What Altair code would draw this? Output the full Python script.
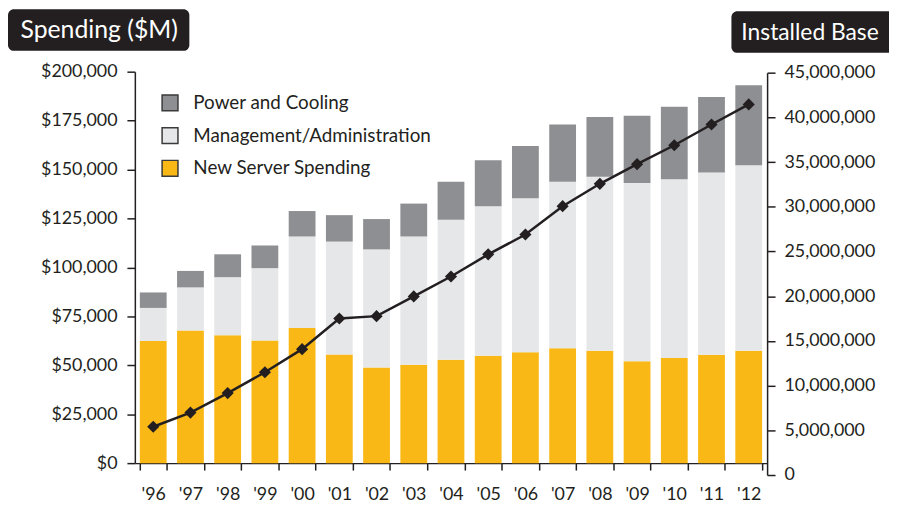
import altair as alt
import pandas as pd

years = ["'96", "'97", "'98", "'99", "'00", "'01", "'02", "'03", "'04",
         "'05", "'06", "'07", "'08", "'09", "'10", "'11", "'12"]
new_server = [62400, 67800, 65300, 62600, 69000, 55500, 48900, 50300, 52800,
              54800, 56700, 58700, 57400, 52100, 53700, 55400, 57400]
management = [16900, 22000, 29700, 37000, 46800, 57700, 60300, 65500, 71600,
              76500, 78600, 85100, 88900, 91000, 91400, 93100, 94800]
power_cooling = [7900, 8400, 11700, 11600, 13000, 13500, 15500, 16800, 19400,
                 23500, 26700, 29200, 30600, 34400, 37000, 38600, 40900]
installed_base = [5400000, 6980000, 9160000, 11490000, 14080000, 17510000,
                  17770000, 19980000, 22200000, 24680000, 26900000, 30070000,
                  32570000, 34770000, 36880000, 39200000, 41450000]

series_names = ["Power and Cooling", "Management/Administration", "New Server Spending"]
series_colors = ["#8e8f92", "#e6e7e8", "#f9b816"]
stack_order = {"New Server Spending": 0, "Management/Administration": 1, "Power and Cooling": 2}

rows = []
for i, y in enumerate(years):
    for name, vals in [("New Server Spending", new_server),
                       ("Management/Administration", management),
                       ("Power and Cooling", power_cooling)]:
        rows.append({"year": y, "series": name, "value": vals[i], "ord": stack_order[name]})
bars_df = pd.DataFrame(rows)
line_df = pd.DataFrame({"year": years, "base": installed_base})
one = pd.DataFrame({"a": [0]})

FONT = "Lato"
DARK = "#231f20"

x_axis = alt.Axis(title=None, labelFontSize=18, labelColor=DARK, labelFont=FONT,
                  tickBand="extent", tickSize=7, tickColor=DARK, tickWidth=1.5,
                  domainColor=DARK, domainWidth=1.5, labelPadding=16, labelAngle=0)
x_scale = alt.Scale(paddingInner=0.28, paddingOuter=0.134)

def x_enc():
    return alt.X("year:N", sort=years, scale=x_scale, axis=x_axis)

bars = alt.Chart(bars_df).mark_bar().encode(
    x=x_enc(),
    y=alt.Y("value:Q", stack="zero",
            scale=alt.Scale(domain=[0, 200000], nice=False),
            axis=alt.Axis(title=None, values=list(range(0, 200001, 25000)), format="$,.0f",
                          labelFontSize=18, labelColor=DARK, labelFont=FONT,
                          tickSize=8, tickColor=DARK, tickWidth=1.5, domainColor=DARK,
                          domainWidth=1.5, labelPadding=10, grid=False, orient="left")),
    color=alt.Color("series:N",
                    scale=alt.Scale(domain=series_names, range=series_colors),
                    legend=alt.Legend(title=None, orient="none", legendX=26, legendY=22,
                                      symbolType="square", symbolSize=256,
                                      symbolStrokeColor="#3a3a3a", symbolStrokeWidth=1.5,
                                      labelFontSize=19, labelFont=FONT, labelColor=DARK,
                                      labelOffset=14, rowPadding=10, padding=0,
                                      labelLimit=0)),
    order=alt.Order("ord:Q", sort="ascending"),
)

y_right = alt.Y("base:Q",
                scale=alt.Scale(domain=[0, 45000000], range=[407, 1], nice=False),
                axis=alt.Axis(title=None, values=list(range(0, 45000001, 5000000)),
                              format=",.0f",
                              labelFontSize=18, labelColor=DARK, labelFont=FONT,
                              tickSize=8, tickColor=DARK, tickWidth=1.5, domainColor=DARK,
                              domainWidth=1.5, labelPadding=9, grid=False, orient="right"))

line = alt.Chart(line_df).mark_line(color=DARK, strokeWidth=2.5).encode(
    x=x_enc(), y=y_right)
points = alt.Chart(line_df).mark_point(shape="diamond", filled=True, color=DARK,
                                       size=150, opacity=1).encode(
    x=x_enc(), y=y_right)
line_layer = alt.layer(line, points)

box1 = alt.Chart(one).mark_rect(color=DARK, cornerRadius=6).encode(
    x=alt.value(-128), x2=alt.value(55), y=alt.value(-63), y2=alt.value(-21))
txt1 = alt.Chart(one).mark_text(color="white", fontSize=25, font=FONT, align="center",
                                baseline="middle").encode(
    x=alt.value(-36), y=alt.value(-42), text=alt.value("Spending ($M)"))
box2 = alt.Chart(one).mark_rect(color=DARK, cornerRadius=6).encode(
    x=alt.value(602), x2=alt.value(790), y=alt.value(-61), y2=alt.value(-19))
txt2 = alt.Chart(one).mark_text(color="white", fontSize=23, font=FONT, align="left",
                                baseline="middle").encode(
    x=alt.value(612), y=alt.value(-39), text=alt.value("Installed Base"))

chart = alt.layer(bars, line_layer, box1, txt1, box2, txt2).resolve_scale(
    y="independent"
).properties(
    width=638, height=395,
    autosize=alt.AutoSizeParams(type="none"),
    padding={"left": 128, "top": 62, "right": 123, "bottom": 41},
).configure_view(stroke=None)

chart.save("out.html", embed_options={"renderer": "svg", "actions": False})
